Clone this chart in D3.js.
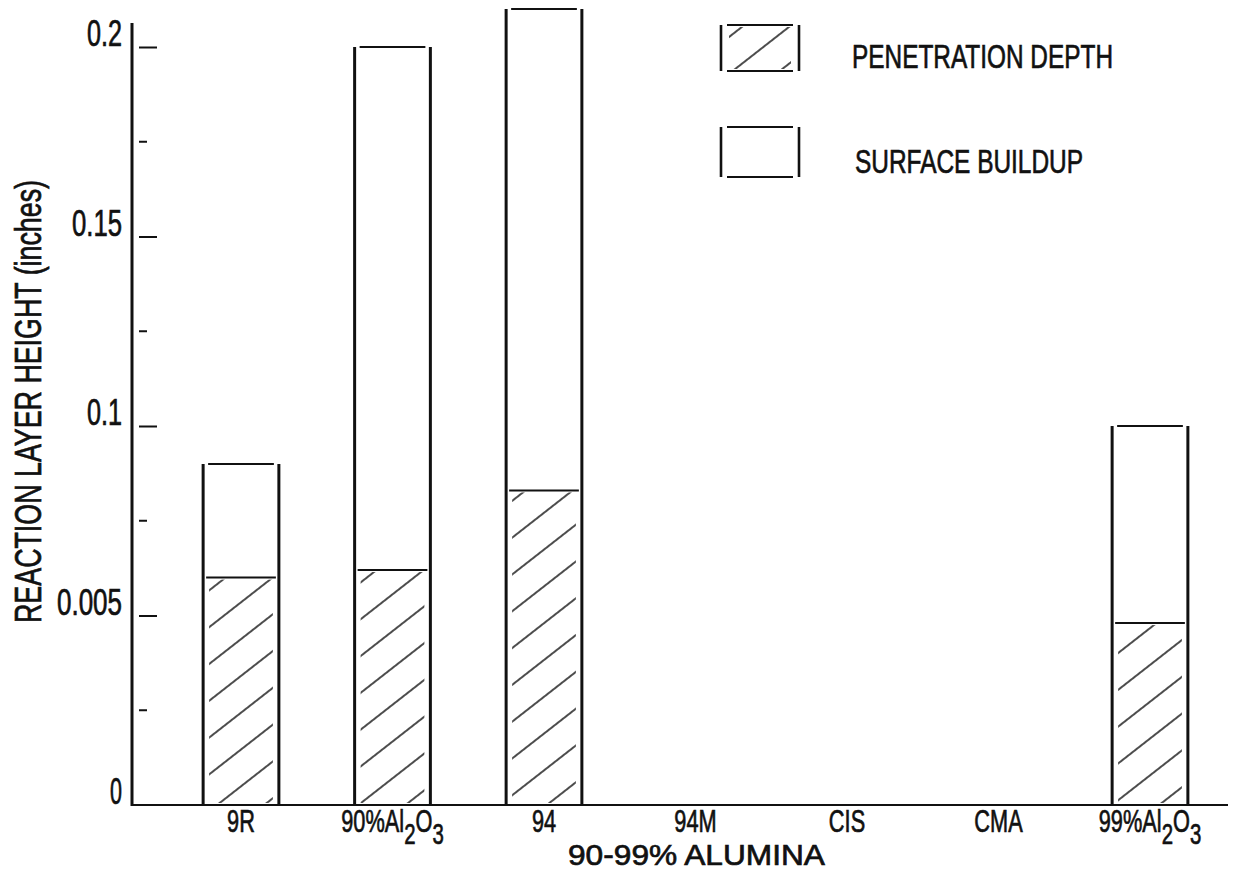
<!DOCTYPE html>
<html>
<head>
<meta charset="utf-8">
<script src="https://cdn.jsdelivr.net/npm/d3@7"></script>
<style>
  html, body { margin: 0; padding: 0; background: #ffffff; }
  svg { display: block; }
  text { font-family: "Liberation Sans", Arial, sans-serif; fill: #111; stroke: #111; stroke-width: 0.7px; }
</style>
</head>
<body>
<svg id="chart" width="1233" height="873"></svg>
<script>
// Reaction layer height per refractory grade (inches)
const categories = ["9R", "90%Al2O3", "94", "94M", "CIS", "CMA", "99%Al2O3"];
const penetrationDepth = [0.060, 0.062, 0.083, 0, 0, 0, 0.048];
const surfaceBuildup   = [0.030, 0.138, 0.127, 0, 0, 0, 0.052];

const majorTicks = [0, 0.05, 0.1, 0.15, 0.2];
const majorTickLabels = ["0", "0.005", "0.1", "0.15", "0.2"];
const minorTicks = [0.025, 0.075, 0.125, 0.175];

const legendLabels = ["PENETRATION DEPTH", "SURFACE BUILDUP"];
const xTitle = "90-99% ALUMINA";
const yTitle = "REACTION LAYER HEIGHT (inches)";

const svg = d3.select("#chart");
const ink = "#111";

const rows = categories.map((c, i) => ({ cat: c, pen: penetrationDepth[i], sur: surfaceBuildup[i] }));
const stacked = d3.stack().keys(["pen", "sur"])(rows);

const x = d3.scaleBand().domain(categories).range([165.25, 1225.75]).paddingInner(0.5).paddingOuter(0.25);
const y = d3.scaleLinear().domain([0, 0.2]).range([805, 47]);
const axisX = 132;

// hatch pattern for penetration depth
const defs = svg.append("defs");
const pat = defs.append("pattern")
  .attr("id", "hatch")
  .attr("patternUnits", "userSpaceOnUse")
  .attr("width", 40).attr("height", 29)
  .attr("patternTransform", "rotate(-38)");
pat.append("line")
  .attr("x1", 0).attr("x2", 40).attr("y1", 14).attr("y2", 14)
  .attr("stroke", ink).attr("stroke-width", 1.6);

// y axis
const yAxis = d3.axisLeft(y)
  .tickValues(majorTicks)
  .tickSize(-24)
  .tickFormat((d, i) => majorTickLabels[i]);
const gy = svg.append("g").attr("transform", `translate(${axisX},0)`).call(yAxis);
gy.select(".domain").remove();
gy.selectAll(".tick line")
  .attr("x1", 7).attr("x2", 25)
  .attr("stroke", ink).attr("stroke-width", 2);
gy.selectAll(".tick").filter(d => d === 0).select("line").remove();
const labelWidths = { "0": 12, "0.005": 65, "0.1": 35, "0.15": 50, "0.2": 35 };
gy.selectAll(".tick text")
  .attr("x", -10).attr("y", -13)
  .attr("font-size", 36)
  .attr("fill", ink)
  .attr("textLength", d => labelWidths[majorTickLabels[majorTicks.indexOf(d)]])
  .attr("lengthAdjust", "spacingAndGlyphs");

gy.selectAll(".minor")
  .data(minorTicks)
  .join("line")
  .attr("class", "minor")
  .attr("x1", 7).attr("x2", 15)
  .attr("y1", d => y(d)).attr("y2", d => y(d))
  .attr("stroke", ink).attr("stroke-width", 2);

gy.append("line")
  .attr("x1", 0).attr("x2", 0)
  .attr("y1", y(0.2) - 24).attr("y2", y(0) + 1)
  .attr("stroke", ink).attr("stroke-width", 3);

// baseline
svg.append("line")
  .attr("x1", axisX).attr("x2", 1228)
  .attr("y1", y(0)).attr("y2", y(0))
  .attr("stroke", ink).attr("stroke-width", 2.2);

// bars
const bw = x.bandwidth();
const bars = svg.append("g");
const penLayer = stacked[0];
const surLayer = stacked[1];

penLayer.forEach(seg => {
  const c = seg.data.cat;
  if (seg[1] <= seg[0]) return;
  const x0 = x(c);
  bars.append("rect")
    .attr("x", x0 + 6).attr("width", bw - 12)
    .attr("y", y(seg[1]) + 2).attr("height", y(seg[0]) - y(seg[1]) - 4)
    .attr("fill", "url(#hatch)");
  bars.append("line")
    .attr("x1", x0 + 3).attr("x2", x0 + bw - 3)
    .attr("y1", y(seg[1])).attr("y2", y(seg[1]))
    .attr("stroke", ink).attr("stroke-width", 2);
});

surLayer.forEach(seg => {
  const c = seg.data.cat;
  if (seg[1] <= 0) return;
  const x0 = x(c), x1 = x0 + bw;
  bars.append("line")
    .attr("x1", x0).attr("x2", x0)
    .attr("y1", y(seg[1])).attr("y2", y(0))
    .attr("stroke", ink).attr("stroke-width", 3);
  bars.append("line")
    .attr("x1", x1).attr("x2", x1)
    .attr("y1", y(seg[1])).attr("y2", y(0))
    .attr("stroke", ink).attr("stroke-width", 3);
  bars.append("line")
    .attr("x1", x0 + 5).attr("x2", x1 - 5)
    .attr("y1", y(seg[1])).attr("y2", y(seg[1]))
    .attr("stroke", ink).attr("stroke-width", 2);
});

// category labels (chemical formulas get subscripts)
const catG = svg.append("g");
categories.forEach(c => {
  const cx = x(c) + bw / 2;
  const g = catG.append("g").attr("transform", `translate(${cx},832) scale(0.68,1)`);
  const t = g.append("text").attr("text-anchor", "middle").attr("font-size", 32);
  const m = c.match(/^(.*Al)2O3$/);
  if (m) {
    t.append("tspan").text(m[1]);
    t.append("tspan").attr("dy", 12).attr("font-size", 30).text("2");
    t.append("tspan").attr("dy", -12).text("O");
    t.append("tspan").attr("dy", 12).attr("font-size", 30).text("3");
  } else {
    t.text(c);
  }
});

// axis titles
svg.append("text")
  .attr("x", 568).attr("y", 865)
  .attr("font-size", 30)
  .attr("textLength", 257).attr("lengthAdjust", "spacingAndGlyphs")
  .text(xTitle);

svg.append("text")
  .attr("transform", "translate(41,623) rotate(-90)")
  .attr("font-size", 36)
  .attr("textLength", 443).attr("lengthAdjust", "spacingAndGlyphs")
  .text(yTitle);

// legend
const legend = svg.append("g");
const boxes = [{ top: 25, bottom: 71, hatched: true, tx: 852, ty: 68, w: 261 },
               { top: 127, bottom: 177, hatched: false, tx: 855, ty: 173, w: 228 }];
boxes.forEach((b, i) => {
  if (b.hatched) {
    legend.append("rect")
      .attr("x", 729).attr("width", 62)
      .attr("y", b.top + 2).attr("height", b.bottom - b.top - 4)
      .attr("fill", "url(#hatch)");
  }
  legend.append("line").attr("x1", 721).attr("x2", 721).attr("y1", b.top).attr("y2", b.bottom)
    .attr("stroke", ink).attr("stroke-width", 2.6);
  legend.append("line").attr("x1", 799).attr("x2", 799).attr("y1", b.top).attr("y2", b.bottom)
    .attr("stroke", ink).attr("stroke-width", 2.6);
  legend.append("line").attr("x1", 727).attr("x2", 793).attr("y1", b.top).attr("y2", b.top)
    .attr("stroke", ink).attr("stroke-width", 1.8);
  legend.append("line").attr("x1", 727).attr("x2", 793).attr("y1", b.bottom).attr("y2", b.bottom)
    .attr("stroke", ink).attr("stroke-width", 1.8);
  legend.append("text")
    .attr("x", b.tx).attr("y", b.ty)
    .attr("font-size", 34)
    .attr("textLength", b.w).attr("lengthAdjust", "spacingAndGlyphs")
    .text(legendLabels[i]);
});
</script>
</body>
</html>
